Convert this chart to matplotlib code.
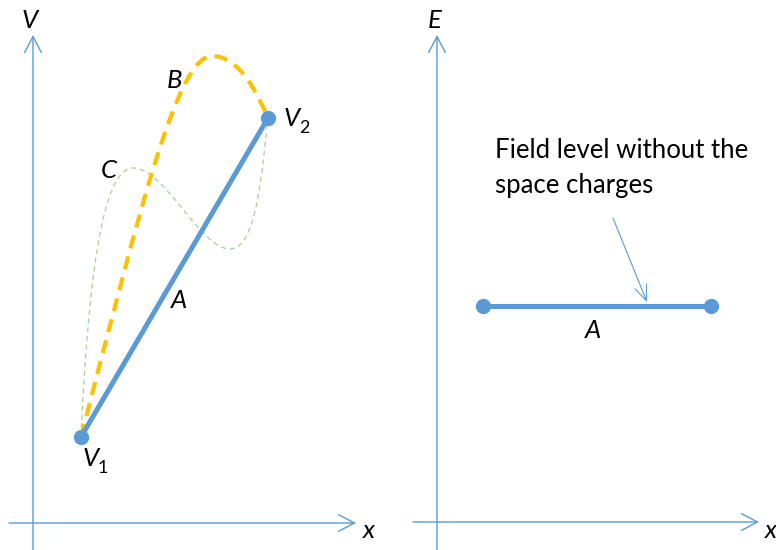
import matplotlib
matplotlib.use("Agg")
import matplotlib.pyplot as plt
from matplotlib.path import Path
from matplotlib.patches import PathPatch

# ---- data (diagram coordinates, pixel-like units, y downward) ----
BLUE = "#5B9BD5"
ORANGE = "#FFC000"
GREEN = "#A9D18E"

# left panel axes: origin, x-axis end, y-axis end
left_axis_x = [33, 33]
left_axis_y = [550, 35]
left_xaxis_x = [9, 356]
left_xaxis_y = [523, 523]

right_axis_x = [437, 437]
right_axis_y = [550, 35]
right_xaxis_x = [413, 759]
right_xaxis_y = [522, 522]

# potential curve A (straight) endpoints V1 -> V2
A_x = [81, 268]
A_y = [437, 118]

# curve B: cubic Bezier control points (two segments)
B_x = [81, 140, 177, 212, 240, 258, 268]
B_y = [437, 210, 56, 56, 56, 95, 118]

# curve C: cubic Bezier control points (three segments)
C_x = [81, 90, 108, 133, 165, 200, 230, 257, 262, 268]
C_y = [437, 240, 168, 168, 168, 249, 249, 249, 170, 118]

# field line A (right panel)
E_x = [483, 711]
E_y = [306, 306]

# annotation arrow
ann_x = [613, 647]
ann_y = [218, 302]
ann_lines = ["Field level without the", "space charges"]

FONT = "Lato"

fig = plt.figure(figsize=(7.76, 5.5), dpi=100)
ax = fig.add_axes([0, 0, 1, 1])
ax.set_xlim(0, 776)
ax.set_ylim(550, 0)
ax.axis("off")


def arrow_axis(xs, ys):
    ax.annotate("", xy=(xs[1], ys[1]), xytext=(xs[0], ys[0]),
                arrowprops=dict(arrowstyle="->,head_length=1.15,head_width=0.6",
                                color=BLUE, lw=1.0, shrinkA=0, shrinkB=0))


arrow_axis(left_axis_x, left_axis_y)
arrow_axis(left_xaxis_x, left_xaxis_y)
arrow_axis(right_axis_x, right_axis_y)
arrow_axis(right_xaxis_x, right_xaxis_y)


def bezier(xs, ys, **kw):
    verts = list(zip(xs, ys))
    codes = [Path.MOVETO] + [Path.CURVE4] * (len(verts) - 1)
    p = PathPatch(Path(verts, codes), fill=False, **kw)
    ax.add_patch(p)


bezier(C_x, C_y, edgecolor=GREEN, lw=0.9, linestyle=(0, (4, 3)), capstyle="butt")
bezier(B_x, B_y, edgecolor=ORANGE, lw=3.0, linestyle=(0, (3.2, 2.0)), capstyle="butt")

ax.plot(A_x, A_y, color=BLUE, lw=3.6, marker="o", markersize=10,
        solid_capstyle="round")
ax.plot(E_x, E_y, color=BLUE, lw=3.6, marker="o", markersize=10)

ax.annotate("", xy=(ann_x[1], ann_y[1]), xytext=(ann_x[0], ann_y[0]),
            arrowprops=dict(arrowstyle="->,head_length=1.1,head_width=0.45",
                            color=BLUE, lw=0.8, shrinkA=0, shrinkB=0))

fs = 18.5
it = dict(family=FONT, style="italic", fontsize=fs, color="black",
          ha="center", va="center")
ax.text(30, 20, "V", **it)
ax.text(435, 20, "E", **it)
ax.text(174, 81, "B", **it)
ax.text(109, 171, "C", **it)
ax.text(179, 300, "A", **it)
ax.text(593, 331, "A", **it)
ax.text(369, 530, "x", **it)
ax.text(771, 530, "x", **it)
ax.text(292, 118, "V", **it)
ax.text(304, 128, "2", family=FONT, fontsize=13, ha="center", va="center")
ax.text(91, 458, "V", **it)
ax.text(103, 468, "1", family=FONT, fontsize=13, ha="center", va="center")

ax.text(495, 158, ann_lines[0], family=FONT, fontsize=fs, ha="left", va="baseline")
ax.text(495, 193, ann_lines[1], family=FONT, fontsize=fs, ha="left", va="baseline")

fig.savefig("out.png", dpi=100)
